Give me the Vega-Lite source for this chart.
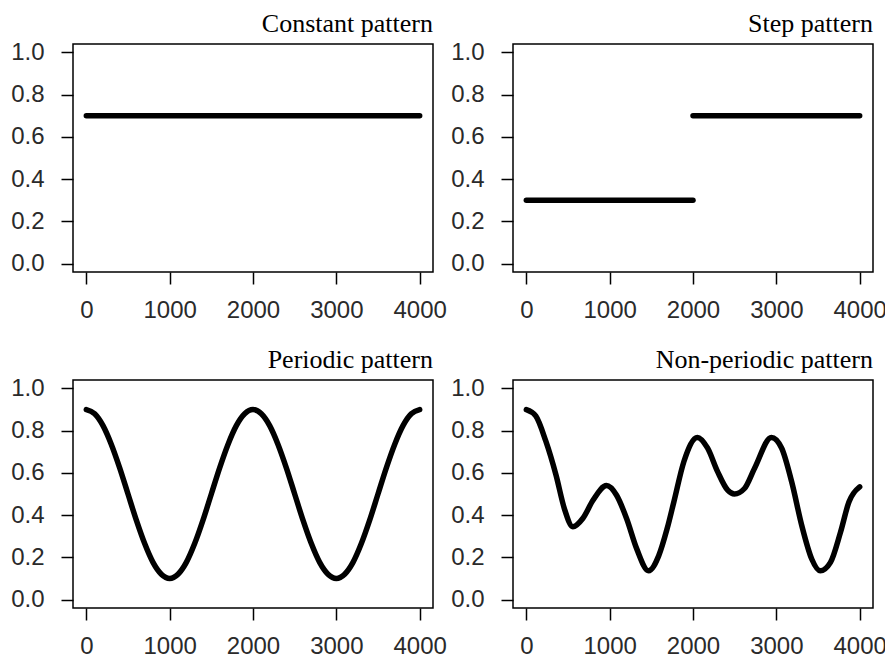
{
  "$schema": "https://vega.github.io/schema/vega-lite/v6.json",
  "background": "white",
  "padding": {"left": 9, "top": 10, "right": 0, "bottom": 0},
  "columns": 2,
  "spacing": {"row": 108, "column": 80},
  "bounds": "flush",
  "config": {
    "view": {"stroke": "black", "strokeWidth": 1.5},
    "axis": {
      "domain": false, "grid": false, "ticks": true, "tickColor": "black", "tickWidth": 1.5, "tickSize": 12,
      "labelFont": "Liberation Sans", "labelFontSize": 24, "labelColor": "#2a2a2a", "labelFlush": false,
      "title": null
    },
    "axisX": {"labelPadding": 14},
    "axisY": {"labelPadding": 17},
    "title": {"font": "Liberation Serif", "fontSize": 26, "fontWeight": "normal", "anchor": "end", "frame": "group", "color": "black", "offset": 3},
    "line": {"color": "black", "strokeWidth": 5.5, "strokeCap": "round", "strokeJoin": "round"}
  },
  "concat": [
    {
      "title": "Constant pattern",
      "width": 360, "height": 228,
      "data": {"values": [{"x": 0, "y": 0.7, "seg": 1}, {"x": 4000, "y": 0.7, "seg": 1}]},
      "mark": {"type": "line"},
      "encoding": {
        "x": {"field": "x", "type": "quantitative", "scale": {"domain": [-160, 4160], "nice": false, "zero": false}, "axis": {"values": [0, 1000, 2000, 3000, 4000], "format": "d"}},
        "y": {"field": "y", "type": "quantitative", "scale": {"domain": [-0.04, 1.04], "nice": false, "zero": false}, "axis": {"values": [0, 0.2, 0.4, 0.6, 0.8, 1.0], "format": ".1f"}}
      }
    },
    {
      "title": "Step pattern",
      "width": 360, "height": 228,
      "data": {"values": [{"x": 0, "y": 0.3, "seg": 1}, {"x": 2000, "y": 0.3, "seg": 1}, {"x": 2000, "y": 0.7, "seg": 2}, {"x": 4000, "y": 0.7, "seg": 2}]},
      "mark": {"type": "line"},
      "encoding": {
        "detail": {"field": "seg"},
        "x": {"field": "x", "type": "quantitative", "scale": {"domain": [-160, 4160], "nice": false, "zero": false}, "axis": {"values": [0, 1000, 2000, 3000, 4000], "format": "d"}},
        "y": {"field": "y", "type": "quantitative", "scale": {"domain": [-0.04, 1.04], "nice": false, "zero": false}, "axis": {"values": [0, 0.2, 0.4, 0.6, 0.8, 1.0], "format": ".1f"}}
      }
    },
    {
      "title": "Periodic pattern",
      "width": 360, "height": 228,
      "data": {"values": [
        {"x": 0, "y": 0.9}, {"x": 100, "y": 0.880}, {"x": 200, "y": 0.824}, {"x": 300, "y": 0.735}, {"x": 400, "y": 0.624},
        {"x": 500, "y": 0.5}, {"x": 600, "y": 0.376}, {"x": 700, "y": 0.265}, {"x": 800, "y": 0.176}, {"x": 900, "y": 0.120},
        {"x": 1000, "y": 0.1}, {"x": 1100, "y": 0.120}, {"x": 1200, "y": 0.176}, {"x": 1300, "y": 0.265}, {"x": 1400, "y": 0.376},
        {"x": 1500, "y": 0.5}, {"x": 1600, "y": 0.624}, {"x": 1700, "y": 0.735}, {"x": 1800, "y": 0.824}, {"x": 1900, "y": 0.880},
        {"x": 2000, "y": 0.9}, {"x": 2100, "y": 0.880}, {"x": 2200, "y": 0.824}, {"x": 2300, "y": 0.735}, {"x": 2400, "y": 0.624},
        {"x": 2500, "y": 0.5}, {"x": 2600, "y": 0.376}, {"x": 2700, "y": 0.265}, {"x": 2800, "y": 0.176}, {"x": 2900, "y": 0.120},
        {"x": 3000, "y": 0.1}, {"x": 3100, "y": 0.120}, {"x": 3200, "y": 0.176}, {"x": 3300, "y": 0.265}, {"x": 3400, "y": 0.376},
        {"x": 3500, "y": 0.5}, {"x": 3600, "y": 0.624}, {"x": 3700, "y": 0.735}, {"x": 3800, "y": 0.824}, {"x": 3900, "y": 0.880},
        {"x": 4000, "y": 0.9}
      ]},
      "mark": {"type": "line", "interpolate": "monotone"},
      "encoding": {
        "x": {"field": "x", "type": "quantitative", "scale": {"domain": [-160, 4160], "nice": false, "zero": false}, "axis": {"values": [0, 1000, 2000, 3000, 4000], "format": "d"}},
        "y": {"field": "y", "type": "quantitative", "scale": {"domain": [-0.04, 1.04], "nice": false, "zero": false}, "axis": {"values": [0, 0.2, 0.4, 0.6, 0.8, 1.0], "format": ".1f"}}
      }
    },
    {
      "title": "Non-periodic pattern",
      "width": 360, "height": 228,
      "data": {"values": [
        {"x": 0, "y": 0.90}, {"x": 113, "y": 0.87}, {"x": 234, "y": 0.75}, {"x": 356, "y": 0.59}, {"x": 457, "y": 0.43},
        {"x": 558, "y": 0.345}, {"x": 679, "y": 0.385}, {"x": 800, "y": 0.47}, {"x": 962, "y": 0.54}, {"x": 1083, "y": 0.494},
        {"x": 1204, "y": 0.383}, {"x": 1325, "y": 0.24}, {"x": 1467, "y": 0.136}, {"x": 1588, "y": 0.207}, {"x": 1689, "y": 0.335},
        {"x": 1770, "y": 0.462}, {"x": 1891, "y": 0.654}, {"x": 2053, "y": 0.768}, {"x": 2174, "y": 0.718}, {"x": 2295, "y": 0.606},
        {"x": 2416, "y": 0.518}, {"x": 2497, "y": 0.50}, {"x": 2618, "y": 0.526}, {"x": 2739, "y": 0.622}, {"x": 2941, "y": 0.768},
        {"x": 3063, "y": 0.718}, {"x": 3184, "y": 0.558}, {"x": 3305, "y": 0.351}, {"x": 3426, "y": 0.191}, {"x": 3527, "y": 0.136},
        {"x": 3648, "y": 0.175}, {"x": 3770, "y": 0.319}, {"x": 3871, "y": 0.462}, {"x": 4000, "y": 0.534}
      ]},
      "mark": {"type": "line", "interpolate": "monotone"},
      "encoding": {
        "x": {"field": "x", "type": "quantitative", "scale": {"domain": [-160, 4160], "nice": false, "zero": false}, "axis": {"values": [0, 1000, 2000, 3000, 4000], "format": "d"}},
        "y": {"field": "y", "type": "quantitative", "scale": {"domain": [-0.04, 1.04], "nice": false, "zero": false}, "axis": {"values": [0, 0.2, 0.4, 0.6, 0.8, 1.0], "format": ".1f"}}
      }
    }
  ]
}
